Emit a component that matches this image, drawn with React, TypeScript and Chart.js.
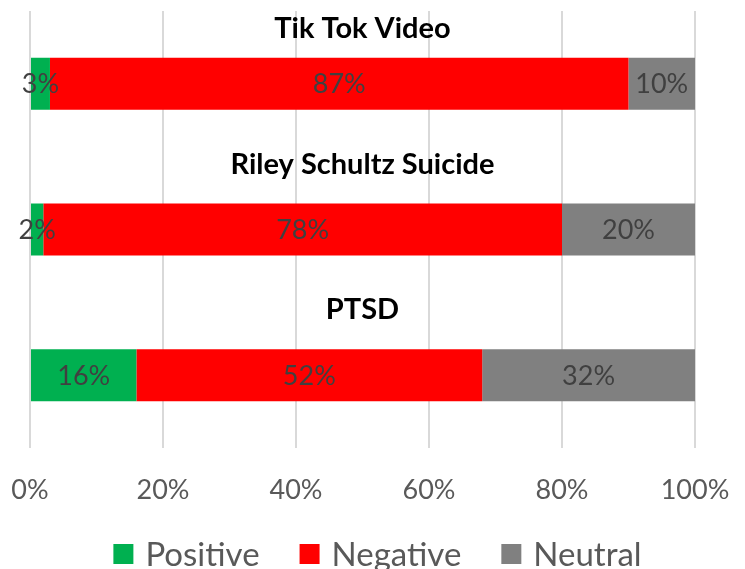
import React, { useEffect, useRef } from "react";
import { Chart, registerables } from "chart.js";

Chart.register(...registerables);

const categories = ["Tik Tok Video", "Riley Schultz Suicide", "PTSD"];
const positive = [3, 2, 16];
const negative = [87, 78, 52];
const neutral = [10, 20, 32];
const seriesNames = ["Positive", "Negative", "Neutral"];
const seriesColors = ["#00b050", "#ff0000", "#808080"];
const tickValues = [0, 20, 40, 60, 80, 100];

const FONT = "Lato, 'Open Sans', sans-serif";

const overlayPlugin = {
  id: "overlay",
  afterDatasetsDraw(chart: any) {
    const { ctx, chartArea } = chart;
    const yScale = chart.scales.y;
    ctx.save();
    // data labels
    ctx.font = `27px ${FONT}`;
    ctx.fillStyle = "#404040";
    ctx.textAlign = "center";
    ctx.textBaseline = "alphabetic";
    chart.data.datasets.forEach((ds: any, di: number) => {
      const meta = chart.getDatasetMeta(di);
      meta.data.forEach((bar: any, i: number) => {
        const x = (bar.x + bar.base) / 2;
        ctx.fillText(ds.data[i] + "%", x, bar.y + 9.5);
      });
    });
    // category titles
    ctx.font = `bold 29px ${FONT}`;
    ctx.fillStyle = "#000000";
    const cx = (chartArea.left + chartArea.right) / 2;
    chart.data.labels.forEach((lab: string, i: number) => {
      const c = yScale.getPixelForValue(i);
      const y = Math.max(chartArea.top + 27, c - 56);
      ctx.fillText(lab, cx, y);
    });
    ctx.restore();
  },
  afterDraw(chart: any) {
    const { ctx, width } = chart;
    ctx.save();
    ctx.font = `33px ${FONT}`;
    const box = 20;
    const gapText = 12;
    const gapItem = 40;
    const items = chart.data.datasets.map((ds: any) => ({
      label: ds.label,
      color: ds.backgroundColor,
      w: ctx.measureText(ds.label).width,
    }));
    const total =
      items.reduce((s: number, it: any) => s + box + gapText + it.w, 0) +
      gapItem * (items.length - 1);
    let x = width / 2 + 5 - total / 2;
    const cy = 554;
    ctx.textAlign = "left";
    ctx.textBaseline = "alphabetic";
    items.forEach((it: any) => {
      ctx.fillStyle = it.color;
      ctx.fillRect(x, cy - box / 2, box, box);
      x += box + gapText;
      ctx.fillStyle = "#595959";
      ctx.fillText(it.label, x, cy + 11.5);
      x += it.w + gapItem;
    });
    ctx.restore();
  },
};

export default function App() {
  const ref = useRef<HTMLCanvasElement>(null);
  useEffect(() => {
    document.body.style.margin = "0";
    const chart = new Chart(ref.current!, {
      type: "bar",
      data: {
        labels: categories,
        datasets: [
          { label: seriesNames[0], data: positive, backgroundColor: seriesColors[0] },
          { label: seriesNames[1], data: negative, backgroundColor: seriesColors[1] },
          { label: seriesNames[2], data: neutral, backgroundColor: seriesColors[2] },
        ],
      },
      options: {
        indexAxis: "y",
        animation: false,
        responsive: false,
        maintainAspectRatio: false,
        layout: { padding: { left: 30, right: 50, top: 11, bottom: 65 } },
        datasets: { bar: { barPercentage: 0.357, categoryPercentage: 1 } },
        scales: {
          x: {
            stacked: true,
            min: 0,
            max: 100,
            afterBuildTicks: (axis: any) => {
              axis.ticks = tickValues.map((v) => ({ value: v }));
            },
            afterFit: (axis: any) => {
              axis.paddingLeft = 0;
              axis.paddingRight = 0;
              axis.height = 56;
            },
            grid: { color: "#d9d9d9", lineWidth: 2, drawTicks: false },
            border: { display: false },
            ticks: {
              font: { family: FONT, size: 27 },
              color: "#595959",
              padding: 26,
              callback: (v: any) => v + "%",
            },
          },
          y: {
            stacked: true,
            display: false,
          },
        },
        plugins: {
          legend: { display: false },
          tooltip: { enabled: false },
        },
      },
      plugins: [overlayPlugin],
    });
    return () => chart.destroy();
  }, []);
  return <canvas ref={ref} width={745} height={569} style={{ display: "block" }} />;
}
